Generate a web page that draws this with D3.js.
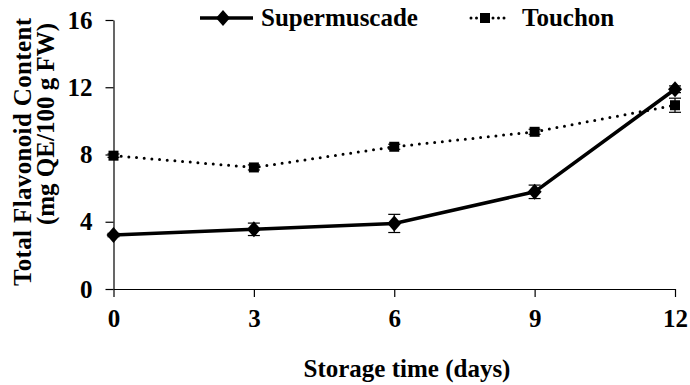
<!DOCTYPE html>
<html><head><meta charset="utf-8">
<script src="https://cdn.jsdelivr.net/npm/d3@7"></script>
<style>body{margin:0;background:#fff}svg{display:block}text{font-family:"Liberation Serif","Times New Roman",serif;font-weight:bold;fill:#000}</style>
</head><body>
<svg id="c" width="690" height="385"></svg>
<script>
const days = [0, 3, 6, 9, 12];
const seriesNames = ["Supermuscade", "Touchon"];
const supermuscade = [3.21, 3.55, 3.9, 5.78, 11.88];
const supermuscadeErr = [0.1, 0.37, 0.54, 0.4, 0.2];
const touchon = [7.93, 7.23, 8.46, 9.35, 10.93];
const touchonErr = [0.1, 0.15, 0.15, 0.15, 0.42];
const xTicks = [0, 3, 6, 9, 12];
const yTicks = [0, 4, 8, 12, 16];
const xTitle = "Storage time (days)";
const yTitle1 = "Total Flavonoid Content";
const yTitle2 = "(mg QE/100 g FW)";

const svg = d3.select("#c");
const x = d3.scaleLinear().domain([0, 12]).range([113.5, 675]);
const y = d3.scaleLinear().domain([0, 16]).range([289, 20]);

// axes
const xa = svg.append("g").attr("transform", "translate(0,289)")
  .call(d3.axisBottom(x).tickValues(xTicks).tickSize(8).tickPadding(12).tickSizeOuter(0));
const ya = svg.append("g").attr("transform", "translate(113.5,0)")
  .call(d3.axisLeft(y).tickValues(yTicks).tickSize(8).tickPadding(13).tickSizeOuter(0));
[xa, ya].forEach(a => {
  a.select(".domain").attr("stroke", "#000").attr("stroke-width", 1.2);
  a.selectAll(".tick line").attr("stroke", "#000").attr("stroke-width", 1.2);
  a.selectAll(".tick text").style("font-size", "25px").style("font-family", "Liberation Serif").style("font-weight", "bold").attr("fill", "#000");
});

// titles
svg.append("text").attr("x", 407).attr("y", 377).attr("text-anchor", "middle").style("font-size", "25px").text(xTitle);
svg.append("text").attr("transform", "translate(31,152) rotate(-90)").attr("text-anchor", "middle")
  .style("font-size", "25px").attr("textLength", 268).attr("lengthAdjust", "spacing").text(yTitle1);
svg.append("text").attr("transform", "translate(54,124) rotate(-90)").attr("text-anchor", "middle").style("font-size", "25px").text(yTitle2);

function errBars(vals, errs) {
  const g = svg.append("g").attr("stroke", "#000").attr("stroke-width", 1.2);
  days.forEach((d, i) => {
    const cx = x(d), y1 = y(vals[i] + errs[i]), y2 = y(vals[i] - errs[i]);
    g.append("line").attr("x1", cx).attr("x2", cx).attr("y1", y1).attr("y2", y2);
    g.append("line").attr("x1", cx - 6).attr("x2", cx + 6).attr("y1", y1).attr("y2", y1);
    g.append("line").attr("x1", cx - 6).attr("x2", cx + 6).attr("y1", y2).attr("y2", y2);
  });
}
errBars(touchon, touchonErr);
errBars(supermuscade, supermuscadeErr);

const line = vals => d3.line().x((d, i) => x(days[i])).y(d => y(d))(vals);

svg.append("path").attr("d", line(touchon)).attr("fill", "none").attr("stroke", "#000")
  .attr("stroke-width", 3).attr("stroke-linecap", "round").attr("stroke-dasharray", "0 7.7");
svg.append("path").attr("d", line(supermuscade)).attr("fill", "none").attr("stroke", "#000")
  .attr("stroke-width", 3.5);

const diamond = (cx, cy) => `M${cx},${cy - 8}L${cx + 7},${cy}L${cx},${cy + 8}L${cx - 7},${cy}Z`;
svg.append("g").selectAll("rect").data(touchon).join("rect")
  .attr("x", (d, i) => x(days[i]) - 5).attr("y", d => y(d) - 5).attr("width", 10).attr("height", 10).attr("fill", "#000");
svg.append("g").selectAll("path").data(supermuscade).join("path")
  .attr("d", (d, i) => diamond(x(days[i]), y(d))).attr("fill", "#000");

// legend
const lg = svg.append("g");
lg.append("line").attr("x1", 200).attr("x2", 253).attr("y1", 18).attr("y2", 18).attr("stroke", "#000").attr("stroke-width", 3.5);
lg.append("path").attr("d", diamond(223, 18)).attr("fill", "#000");
lg.append("text").attr("x", 261).attr("y", 26).style("font-size", "25px").text(seriesNames[0]);
lg.append("line").attr("x1", 471).attr("x2", 508).attr("y1", 18).attr("y2", 18).attr("stroke", "#000")
  .attr("stroke-width", 3).attr("stroke-linecap", "round").attr("stroke-dasharray", "0 5.5");
lg.append("rect").attr("x", 480).attr("y", 13).attr("width", 10).attr("height", 10).attr("fill", "#000");
lg.append("text").attr("x", 522).attr("y", 26).style("font-size", "25px").text(seriesNames[1]);
</script>
</body></html>
